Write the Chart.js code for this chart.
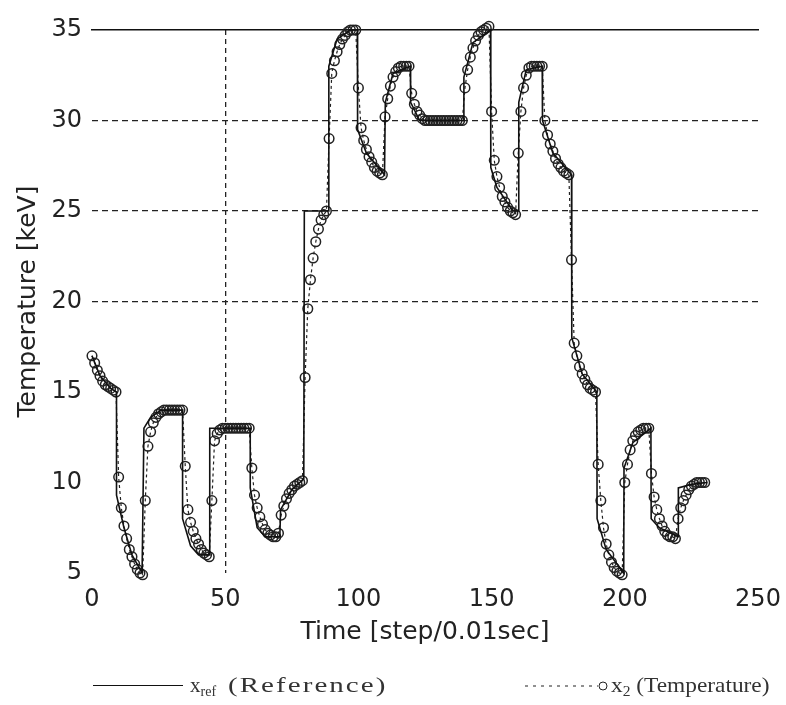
<!DOCTYPE html>
<html>
<head>
<meta charset="utf-8">
<script src="https://cdn.jsdelivr.net/npm/chart.js@4.4.0/dist/chart.umd.min.js"></script>
<style>
  html, body { margin: 0; padding: 0; background: #fff; }
  #wrap { position: relative; width: 786px; height: 705px; }
  .lg { position: absolute; white-space: nowrap; font-family: 'Liberation Serif', 'DejaVu Serif', serif; font-size: 21px; color: #333; line-height: 24px; transform-origin: left center; }
  .lg sub { font-size: 14px; vertical-align: -4px; }
  #refLine { position: absolute; left: 93px; top: 685px; width: 90px; height: 0; border-top: 1.5px solid #111; }
  #tempSample { position: absolute; left: 524px; top: 676px; }
</style>
</head>
<body>
<div id="wrap">
  <canvas id="chart" width="786" height="705"></canvas>
  <div id="refLine"></div>
  <span class="lg" style="left:190px; top:673px;">x<sub>ref</sub></span>
  <span class="lg" id="lgRef" style="left:228px; top:673px; letter-spacing:1.5px;">(Reference)</span>
  <svg id="tempSample" width="86" height="20">
    <line x1="1" y1="10" x2="74" y2="10" stroke="#222" stroke-width="1.2" stroke-dasharray="3 5" />
    <circle cx="79" cy="10" r="4" fill="none" stroke="#222" stroke-width="1" />
  </svg>
  <span class="lg" id="lgTemp" style="left:611px; top:673px;">x<sub>2</sub> (Temperature)</span>
</div>
<script>
// y-axis ticks and x-axis ticks
const yTicks = [5, 10, 15, 20, 25, 30, 35];
const xTicks = [0, 50, 100, 150, 200, 250];

// temperature x2, one value per step (0..230)
const temperature = [
  17.0, 16.6, 16.2, 15.9, 15.6, 15.4, 15.3, 15.2, 15.1, 15.0,
  10.3, 8.6, 7.6, 6.9, 6.3, 5.9, 5.5, 5.2, 5.0, 4.9,
  9.0, 12.0, 12.8, 13.3, 13.6, 13.8, 13.9, 14.0, 14.0, 14.0,
  14.0, 14.0, 14.0, 14.0, 14.0, 10.9, 8.5, 7.8, 7.3, 6.9,
  6.6, 6.3, 6.1, 6.0, 5.9, 9.0, 12.3, 12.7, 12.9, 13.0,
  13.0, 13.0, 13.0, 13.0, 13.0, 13.0, 13.0, 13.0, 13.0, 13.0,
  10.8, 9.3, 8.6, 8.1, 7.7, 7.4, 7.2, 7.1, 7.0, 7.0,
  7.2, 8.2, 8.7, 9.1, 9.4, 9.6, 9.8, 9.9, 10.0, 10.1,
  15.8, 19.6, 21.2, 22.4, 23.3, 24.0, 24.5, 24.8, 25.0, 29.0,
  32.6, 33.3, 33.8, 34.2, 34.5, 34.7, 34.9, 35.0, 35.0, 35.0,
  31.8, 29.6, 28.9, 28.4, 28.0, 27.7, 27.4, 27.2, 27.1, 27.0,
  30.2, 31.2, 31.9, 32.4, 32.7, 32.9, 33.0, 33.0, 33.0, 33.0,
  31.5, 30.9, 30.5, 30.3, 30.1, 30.0, 30.0, 30.0, 30.0, 30.0,
  30.0, 30.0, 30.0, 30.0, 30.0, 30.0, 30.0, 30.0, 30.0, 30.0,
  31.8, 32.8, 33.5, 34.0, 34.4, 34.7, 34.9, 35.0, 35.1, 35.2,
  30.5, 27.8, 26.9, 26.3, 25.8, 25.5, 25.2, 25.0, 24.9, 24.8,
  28.2, 30.5, 31.8, 32.5, 32.9, 33.0, 33.0, 33.0, 33.0, 33.0,
  30.0, 29.2, 28.7, 28.3, 27.9, 27.6, 27.4, 27.2, 27.1, 27.0,
  22.3, 17.7, 17.0, 16.4, 16.0, 15.7, 15.4, 15.2, 15.1, 15.0,
  11.0, 9.0, 7.5, 6.6, 6.0, 5.6, 5.3, 5.1, 5.0, 4.9,
  10.0, 11.0, 11.8, 12.3, 12.6, 12.8, 12.9, 13.0, 13.0, 13.0,
  10.5, 9.2, 8.5, 8.0, 7.6, 7.3, 7.1, 7.0, 7.0, 6.9,
  8.0, 8.6, 9.0, 9.3, 9.6, 9.8, 9.9, 10.0, 10.0, 10.0, 10.0
];

// reference x_ref (solid), read as break points
const refTime = [
  0, 3, 7, 9.2, 9.2, 12, 15, 18.8, 19.5, 22, 26, 34, 34, 37, 40, 44, 44.2, 50, 59.4, 59.4,
  62, 65, 70.5, 70.8, 75, 79.5, 79.7, 88.7, 88.9, 92, 97, 99.6, 99.7, 103, 109.8, 110.1,
  113, 119.5, 119.6, 123, 139.5, 139.6, 143, 149.6, 149.7, 152, 158, 160, 160.2, 163, 169,
  169.1, 173, 180, 180.1, 184, 189.5, 189.6, 193, 199.6, 199.7, 203, 209.8, 209.9, 213,
  220, 220.1, 225, 231
];
const refValue = [
  17.0, 15.9, 15.2, 15.0, 9.3, 7.5, 6.0, 5.0, 13.0, 13.6, 14.0, 14.0, 8.0, 6.5, 6.0, 6.0, 13.0, 13.0, 13.0, 9.7,
  7.5, 7.0, 7.0, 8.5, 9.6, 10.2, 25.0, 25.0, 33.0, 34.5, 35.0, 35.0, 29.5, 28.2, 27.0, 31.0,
  32.6, 33.0, 31.0, 30.0, 30.0, 32.4, 34.3, 35.0, 27.4, 26.3, 25.0, 25.0, 31.0, 32.8, 33.0,
  30.0, 28.2, 27.0, 18.0, 16.0, 15.0, 8.0, 6.3, 5.0, 10.8, 12.2, 13.0, 8.0, 7.5,
  7.0, 9.7, 9.9, 10.0
];

const tempPoints = temperature.map((v, i) => ({ x: i, y: v }));
const refPoints = refTime.map((t, i) => ({ x: t, y: refValue[i] }));

const tickFont = { family: 'DejaVu Sans', size: 24 };
const titleFont = { family: 'DejaVu Sans', size: 25 };

new Chart(document.getElementById('chart'), {
  type: 'line',
  data: {
    datasets: [
      {
        label: 'x_ref (Reference)',
        data: refPoints,
        borderColor: '#111',
        borderWidth: 1.6,
        pointRadius: 0,
        tension: 0,
        clip: false,
      },
      {
        label: 'x2 (Temperature)',
        data: tempPoints,
        borderColor: '#222',
        borderWidth: 1.2,
        borderDash: [3, 3],
        pointRadius: 4.8,
        pointBorderWidth: 1.5,
        pointBorderColor: '#222',
        pointBackgroundColor: 'rgba(0,0,0,0)',
        tension: 0,
        clip: false,
      },
    ],
  },
  options: {
    responsive: false,
    animation: false,
    layout: { padding: { left: 0, right: 28, top: 30, bottom: 57 } },
    plugins: { legend: { display: false }, tooltip: { enabled: false } },
    scales: {
      x: {
        type: 'linear',
        min: 0,
        max: 250,
        afterBuildTicks: (scale) => { scale.ticks = xTicks.map((v) => ({ value: v })); },
        afterFit: (scale) => {
          scale.height = 75;
          scale.paddingLeft = 0;
          scale.paddingRight = 0;
        },
        ticks: { font: tickFont, color: '#222', padding: 12, maxRotation: 0 },
        grid: {
          drawTicks: false,
          color: (ctx) => (ctx.tick && ctx.tick.value === 50 ? '#222' : 'rgba(0,0,0,0)'),
          lineWidth: 1.3,
        },
        border: { display: false, dash: [5, 4] },
        title: { display: true, text: 'Time [step/0.01sec]', font: titleFont, color: '#222', padding: { top: 0, bottom: 1 } },
      },
      x2: {
        type: 'linear',
        position: 'top',
        min: 0,
        max: 250,
        ticks: { display: false },
        grid: { display: false, drawTicks: false },
        border: { display: true, color: '#111', width: 1.6 },
        afterFit: (scale) => {
          scale.height = 0;
          scale.paddingLeft = 0;
          scale.paddingRight = 0;
        },
      },
      y: {
        min: 5,
        max: 35,
        afterBuildTicks: (scale) => { scale.ticks = yTicks.map((v) => ({ value: v })); },
        afterFit: (scale) => { scale.width = 92; },
        ticks: { font: tickFont, color: '#222', padding: 10 },
        grid: {
          drawTicks: false,
          color: (ctx) => (ctx.tick && [20, 25, 30].includes(ctx.tick.value) ? '#222' : 'rgba(0,0,0,0)'),
          lineWidth: 1.3,
        },
        border: { display: false, dash: [6, 4] },
        title: { display: true, text: 'Temperature [keV]', font: titleFont, color: '#222', padding: { top: 13, bottom: 0 } },
      },
    },
  },
});

// stretch legend texts a little to the widths seen in the picture
[['lgRef', 160], ['lgTemp', 159]].forEach(([id, w]) => {
  const el = document.getElementById(id);
  el.style.transform = 'scaleX(' + (w / el.offsetWidth) + ')';
});
</script>
</body>
</html>
